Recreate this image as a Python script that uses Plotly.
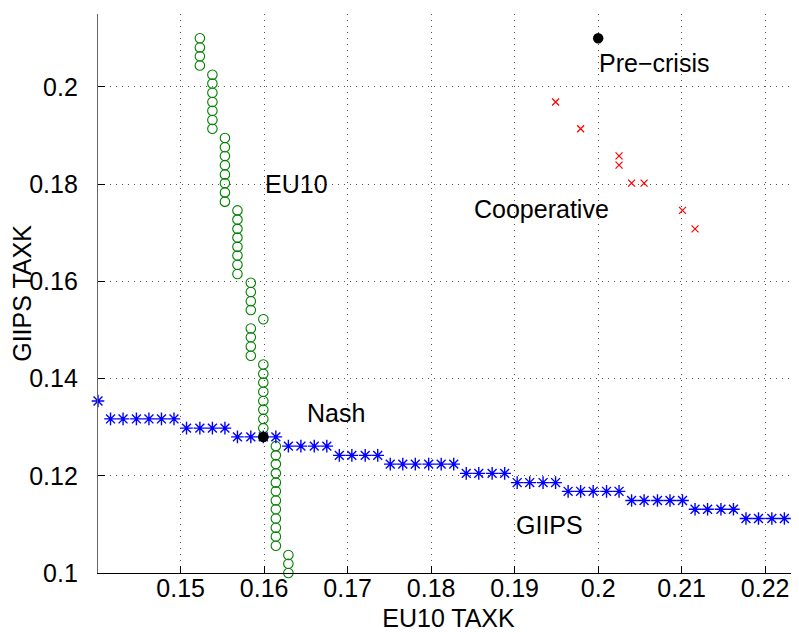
import plotly.graph_objects as go

# ---- data ----
# GIIPS best response (blue stars)
giips_x = [0.1401, 0.1416, 0.1431, 0.1447, 0.1462, 0.1477, 0.1492, 0.1507,
           0.1523, 0.1538, 0.1553, 0.1568, 0.1584, 0.1599, 0.1614, 0.1629,
           0.1644, 0.1660, 0.1675, 0.1690, 0.1705, 0.1721, 0.1736, 0.1751,
           0.1766, 0.1781, 0.1797, 0.1812, 0.1827, 0.1842, 0.1857, 0.1873,
           0.1888, 0.1903, 0.1918, 0.1934, 0.1949, 0.1964, 0.1979, 0.1994,
           0.2010, 0.2025, 0.2040, 0.2055, 0.2071, 0.2086, 0.2101, 0.2116,
           0.2131, 0.2147, 0.2162, 0.2177, 0.2192, 0.2208, 0.2223, 0.2238]
giips_y = [0.1354,
           0.1317, 0.1317, 0.1317, 0.1317, 0.1317, 0.1317,
           0.1298, 0.1298, 0.1298, 0.1298,
           0.1280, 0.1280, 0.1280, 0.1280,
           0.1261, 0.1261, 0.1261, 0.1261,
           0.1242, 0.1242, 0.1242, 0.1242,
           0.1224, 0.1224, 0.1224, 0.1224, 0.1224, 0.1224,
           0.1205, 0.1205, 0.1205, 0.1205,
           0.1186, 0.1186, 0.1186, 0.1186,
           0.1168, 0.1168, 0.1168, 0.1168, 0.1168,
           0.1149, 0.1149, 0.1149, 0.1149, 0.1149,
           0.1131, 0.1131, 0.1131, 0.1131,
           0.1112, 0.1112, 0.1112, 0.1112, 0.1112]

# EU10 best response (green circles)
eu10_x = [0.1523, 0.1523, 0.1523, 0.1523,
          0.1538, 0.1538, 0.1538, 0.1538, 0.1538, 0.1538, 0.1538,
          0.1553, 0.1553, 0.1553, 0.1553, 0.1553, 0.1553, 0.1553, 0.1553,
          0.1568, 0.1568, 0.1568, 0.1568, 0.1568, 0.1568, 0.1568, 0.1568,
          0.1584, 0.1584, 0.1584, 0.1584,
          0.1599,
          0.1584, 0.1584, 0.1584, 0.1584,
          0.1599, 0.1599, 0.1599, 0.1599, 0.1599, 0.1599, 0.1599, 0.1599, 0.1599,
          0.1614, 0.1614, 0.1614, 0.1614, 0.1614, 0.1614, 0.1614, 0.1614,
          0.1614, 0.1614, 0.1614, 0.1614,
          0.1629, 0.1629, 0.1629]
eu10_y = [0.2100, 0.2081, 0.2063, 0.2044,
          0.2025, 0.2007, 0.1988, 0.1969, 0.1951, 0.1932, 0.1914,
          0.1895, 0.1876, 0.1858, 0.1839, 0.1820, 0.1802, 0.1783, 0.1764,
          0.1746, 0.1727, 0.1708, 0.1690, 0.1671, 0.1653, 0.1634, 0.1615,
          0.1597, 0.1578, 0.1559, 0.1541,
          0.1522,
          0.1503, 0.1485, 0.1466, 0.1447,
          0.1429, 0.1410, 0.1392, 0.1373, 0.1354, 0.1336, 0.1317, 0.1298, 0.1280,
          0.1261, 0.1242, 0.1224, 0.1205, 0.1186, 0.1168, 0.1149, 0.1131,
          0.1112, 0.1093, 0.1075, 0.1056,
          0.1037, 0.1019, 0.1000]

# Cooperative outcomes (red crosses)
coop_x = [0.1949, 0.1979, 0.2025, 0.2025, 0.2040, 0.2055, 0.2101, 0.2116]
coop_y = [0.1969, 0.1914, 0.1858, 0.1839, 0.1802, 0.1802, 0.1746, 0.1708]

# Highlighted points (black dots): Nash, Pre-crisis
point_x = [0.1599, 0.2000]
point_y = [0.1280, 0.2100]

# Text labels
label_text = ["Pre\u2212crisis", "Cooperative", "EU10", "Nash", "GIIPS"]
label_x = [0.2000, 0.1850, 0.1600, 0.1650, 0.1900]
label_y = [0.2049, 0.1749, 0.1801, 0.1329, 0.1099]

x_ticks = [0.15, 0.16, 0.17, 0.18, 0.19, 0.20, 0.21, 0.22]
x_tick_text = ["0.15", "0.16", "0.17", "0.18", "0.19", "0.2", "0.21", "0.22"]
y_ticks = [0.10, 0.12, 0.14, 0.16, 0.18, 0.20]
y_tick_text = ["0.1", "0.12", "0.14", "0.16", "0.18", "0.2"]

FONT = "Liberation Sans, Arial, Helvetica, sans-serif"
FS = 25

fig = go.Figure()
fig.add_trace(go.Scatter(
    x=eu10_x, y=eu10_y, mode="markers", cliponaxis=False,
    marker=dict(symbol="circle-open", size=9.5, color="rgb(0,128,0)",
                line=dict(width=1.1, color="rgb(0,128,0)"))))
fig.add_trace(go.Scatter(
    x=giips_x, y=giips_y, mode="markers", cliponaxis=False,
    marker=dict(symbol="asterisk-open", size=10.5, color="rgb(0,0,255)",
                line=dict(width=1.4, color="rgb(0,0,255)"))))
fig.add_trace(go.Scatter(
    x=coop_x, y=coop_y, mode="markers", cliponaxis=False,
    marker=dict(symbol="x-thin-open", size=7, color="rgb(255,0,0)",
                line=dict(width=1.2, color="rgb(255,0,0)"))))
fig.add_trace(go.Scatter(
    x=point_x, y=point_y, mode="markers", cliponaxis=False,
    marker=dict(symbol="circle", size=10.5, color="black",
                line=dict(width=0))))

for t, lx, ly in zip(label_text, label_x, label_y):
    fig.add_annotation(x=lx, y=ly, text=t, showarrow=False,
                       xanchor="left", yanchor="middle", borderpad=0,
                       font=dict(family=FONT, size=FS, color="black"))

# page body adds an 8px offset, so the figure is 8px smaller and margins shifted
fig.update_layout(
    width=791, height=624,
    margin=dict(l=90, r=0, t=6, b=59, autoexpand=False),
    paper_bgcolor="white", plot_bgcolor="white",
    showlegend=False,
    font=dict(family=FONT, size=FS, color="black"),
)
fig.update_xaxes(
    range=[0.1401, 0.22405], automargin=False,
    tickvals=x_ticks, ticktext=x_tick_text,
    ticks="inside", ticklen=7, tickwidth=1, tickcolor="black",
    showline=True, linecolor="black", linewidth=1.3, mirror=False,
    showgrid=True, gridcolor="#555", gridwidth=1, griddash="1px,5px",
    zeroline=False,
    tickfont=dict(family=FONT, size=FS, color="black"),
    ticklabelstandoff=-7,
    title=dict(text="EU10 TAXK", standoff=11,
               font=dict(family=FONT, size=FS, color="black")),
)
fig.update_yaxes(
    range=[0.1, 0.2150], automargin=False,
    tickvals=y_ticks, ticktext=y_tick_text,
    ticks="inside", ticklen=7, tickwidth=1, tickcolor="black",
    showline=True, linecolor="#666", linewidth=1.3, mirror=False,
    showgrid=True, gridcolor="#555", gridwidth=1, griddash="1px,5px",
    zeroline=False,
    tickfont=dict(family=FONT, size=FS, color="black"),
    ticklabelstandoff=14,
    title=dict(text="GIIPS TAXK", standoff=13,
               font=dict(family=FONT, size=FS, color="black")),
)

fig.write_html("out.html")
